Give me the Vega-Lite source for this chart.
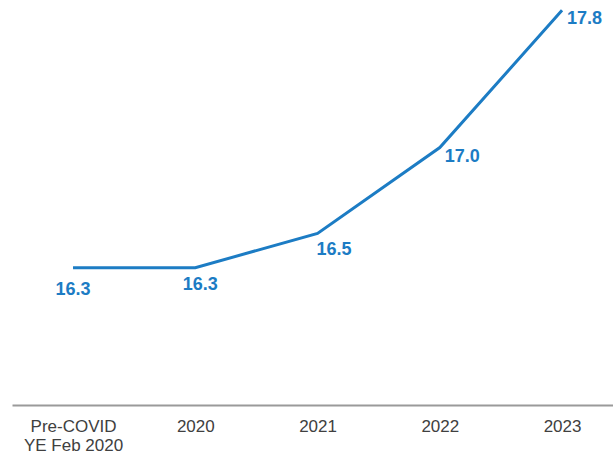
{
  "$schema": "https://vega.github.io/schema/vega-lite/v6.json",
  "width": 601,
  "height": 405,
  "autosize": {"type": "none"},
  "padding": {"left": 12, "top": 0, "right": 0, "bottom": 53},
  "background": "white",
  "data": {
    "values": [
      {"period": "Pre-COVID YE Feb 2020", "value": 16.3, "idx": 0},
      {"period": "2020", "value": 16.3, "idx": 1},
      {"period": "2021", "value": 16.5, "idx": 2},
      {"period": "2022", "value": 17.0, "idx": 3},
      {"period": "2023", "value": 17.8, "idx": 4}
    ]
  },
  "encoding": {
    "x": {
      "field": "period",
      "type": "ordinal",
      "sort": null,
      "scale": {"type": "point", "padding": 0.458, "align": 0.545},
      "axis": {
        "title": null,
        "labelAngle": 0,
        "ticks": false,
        "domainColor": "#9a9a9a",
        "domainWidth": 2,
        "labelFont": "Liberation Sans",
        "labelFontSize": 17,
        "labelColor": "#404040",
        "labelPadding": 13,
        "labelLineHeight": 19,
        "labelExpr": "datum.label == 'Pre-COVID YE Feb 2020' ? ['Pre-COVID', 'YE Feb 2020'] : datum.label"
      }
    },
    "y": {
      "field": "value",
      "type": "quantitative",
      "scale": {"domain": [15.5, 17.86], "zero": false, "nice": false},
      "axis": null
    }
  },
  "layer": [
    {
      "mark": {"type": "line", "color": "#1c7cc4", "strokeWidth": 3, "clip": false}
    },
    {
      "transform": [{"filter": "datum.idx == 0"}],
      "mark": {"type": "text", "font": "Liberation Sans", "fontWeight": "bold", "fontSize": 18, "color": "#1c7cc4", "align": "center", "baseline": "middle", "dy": 22},
      "encoding": {"text": {"field": "value", "type": "quantitative", "format": ".1f"}}
    },
    {
      "transform": [{"filter": "datum.idx == 1"}],
      "mark": {"type": "text", "font": "Liberation Sans", "fontWeight": "bold", "fontSize": 18, "color": "#1c7cc4", "align": "center", "baseline": "middle", "dx": 5, "dy": 17},
      "encoding": {"text": {"field": "value", "type": "quantitative", "format": ".1f"}}
    },
    {
      "transform": [{"filter": "datum.idx == 2"}],
      "mark": {"type": "text", "font": "Liberation Sans", "fontWeight": "bold", "fontSize": 18, "color": "#1c7cc4", "align": "left", "baseline": "middle", "dx": -1, "dy": 17},
      "encoding": {"text": {"field": "value", "type": "quantitative", "format": ".1f"}}
    },
    {
      "transform": [{"filter": "datum.idx >= 3"}],
      "mark": {"type": "text", "font": "Liberation Sans", "fontWeight": "bold", "fontSize": 18, "color": "#1c7cc4", "align": "left", "baseline": "middle", "dx": 5, "dy": 9},
      "encoding": {"text": {"field": "value", "type": "quantitative", "format": ".1f"}}
    }
  ],
  "config": {"view": {"stroke": null}}
}
